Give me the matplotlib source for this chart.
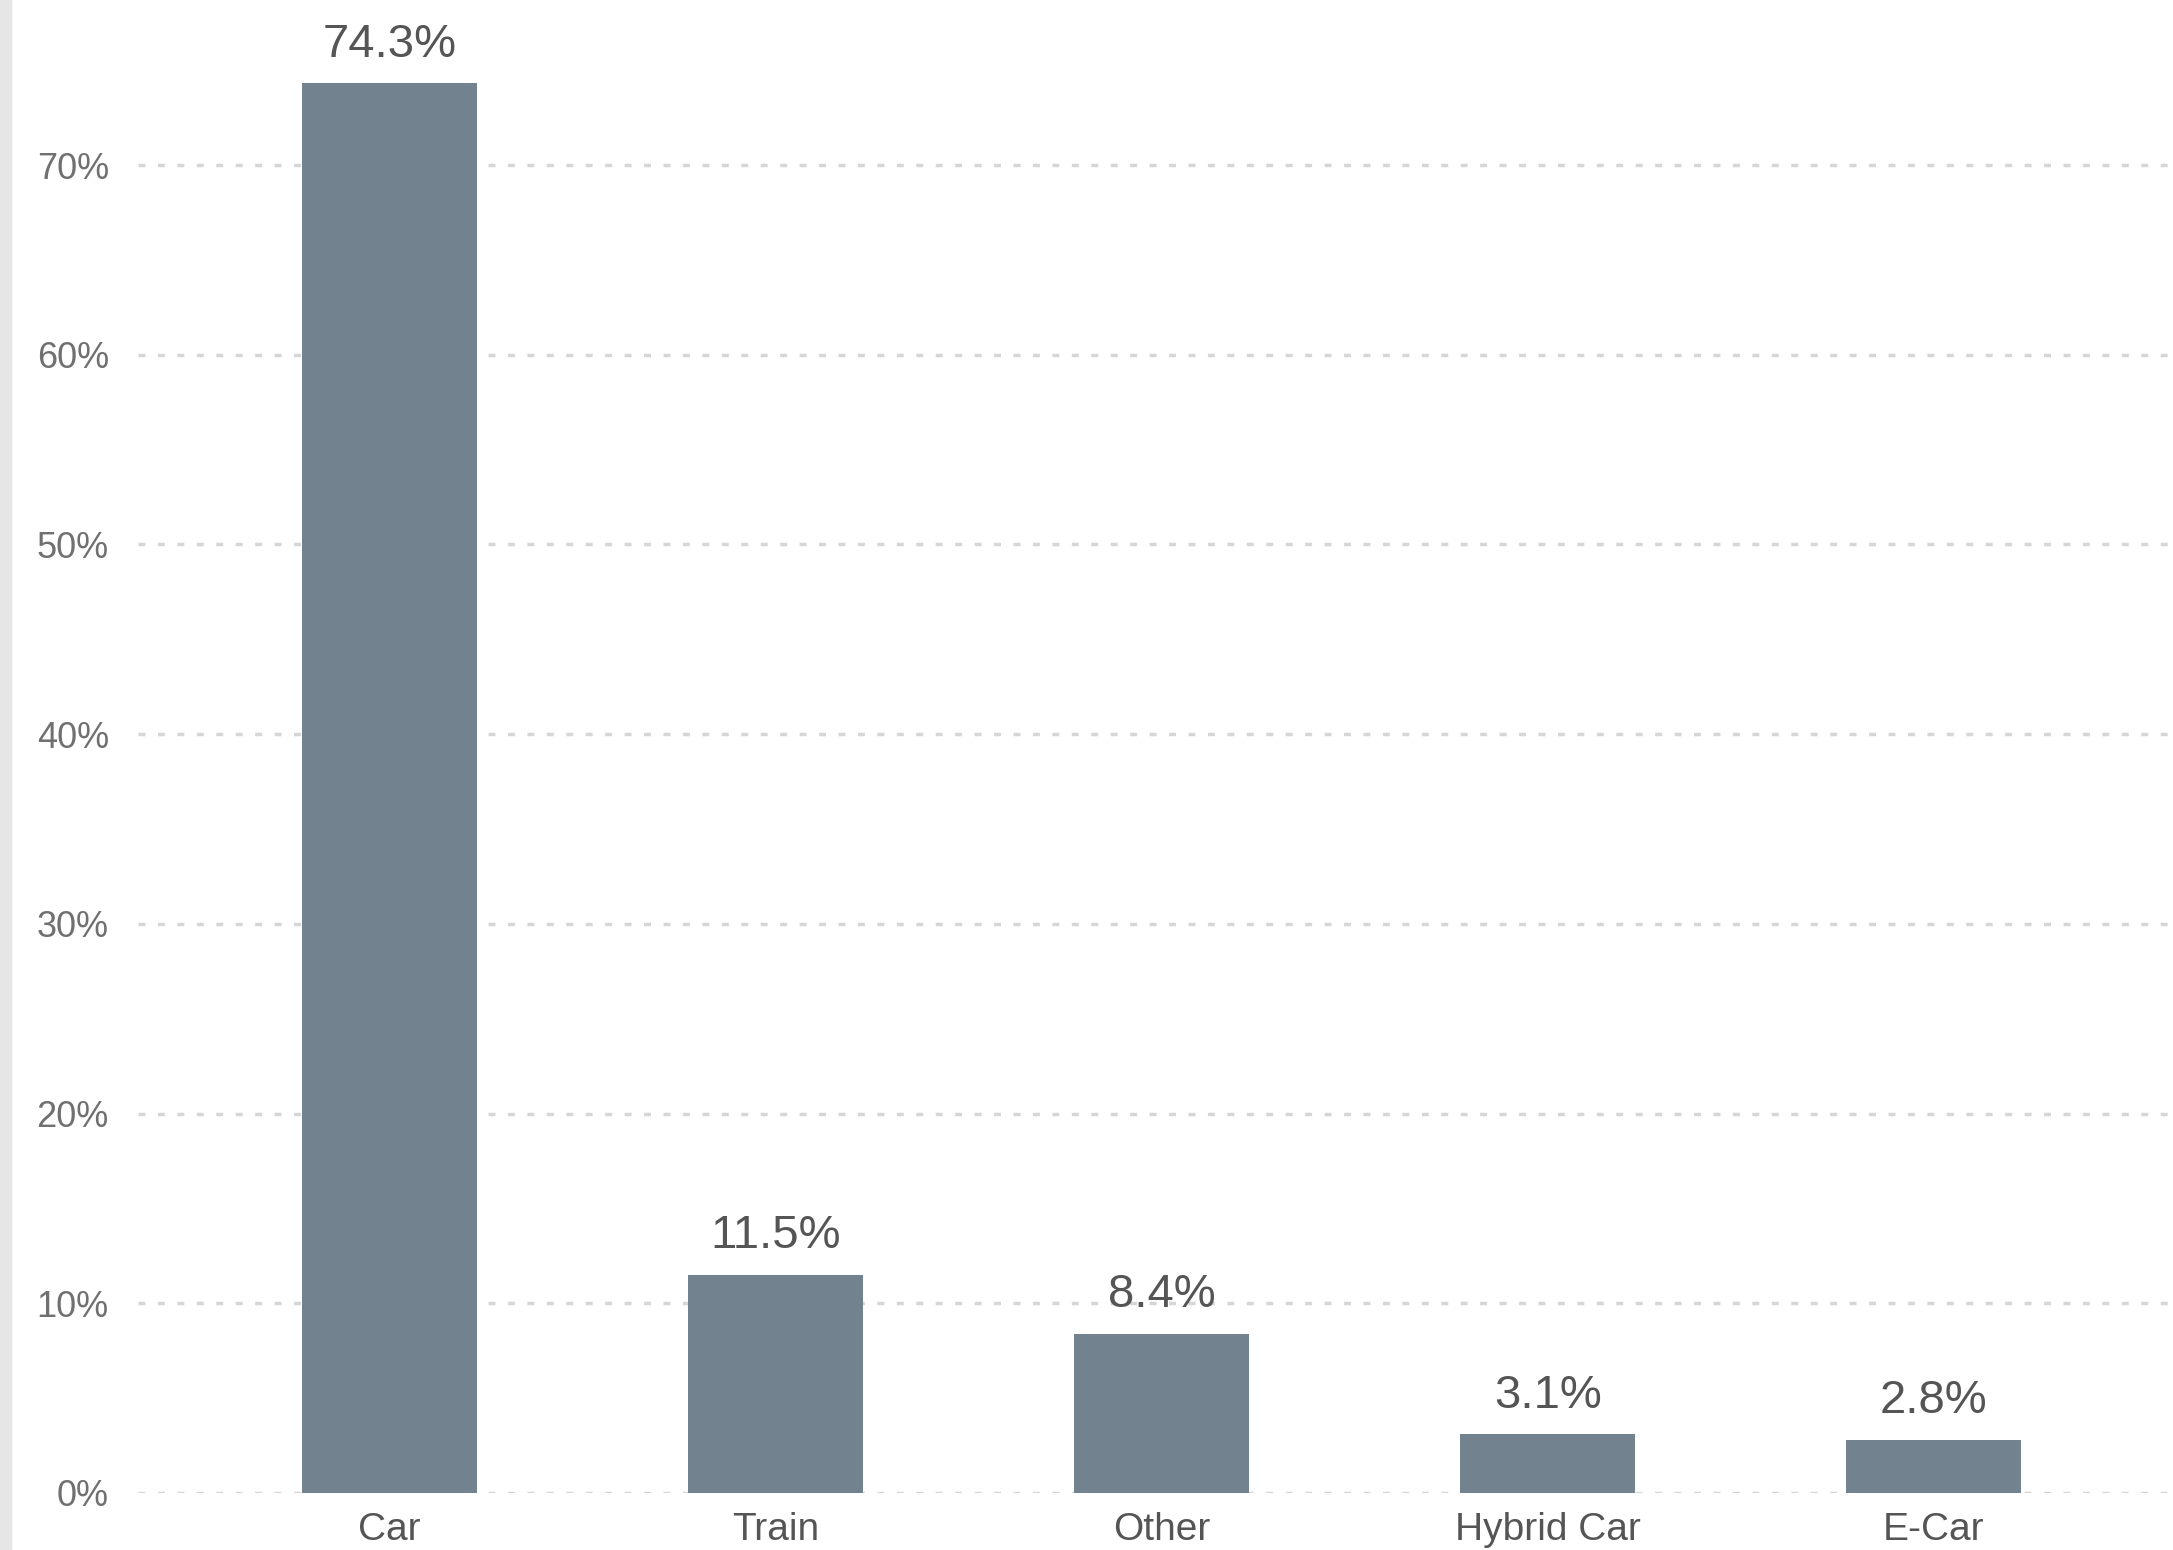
import matplotlib
matplotlib.use("Agg")
import matplotlib.pyplot as plt
from matplotlib.patches import Rectangle

plt.rcParams['font.family'] = ['Liberation Sans', 'DejaVu Sans']

# share of trips by mode (%)
modes = ["Car", "Train", "Other", "Hybrid Car", "E-Car"]
shares = [74.3, 11.5, 8.4, 3.1, 2.8]
yticks = [0, 10, 20, 30, 40, 50, 60, 70]
ytick_labels = ["0%", "10%", "20%", "30%", "40%", "50%", "60%", "70%"]

fig = plt.figure(figsize=(21.73, 15.5), dpi=100)
ax = fig.add_axes([138 / 2173, 57 / 1550, 1 - 138 / 2173, 1 - 57 / 1550])

# grey strip on the left edge of the screenshot
fig.patches.append(Rectangle((0, 0), 11 / 2173, 1, transform=fig.transFigure,
                             color="#e6e6e6", zorder=0))

x = range(len(modes))
bars = ax.bar(x, shares, width=0.455, color="#72828f", zorder=2)

for b, v in zip(bars, shares):
    ax.annotate(f"{v}%", (b.get_x() + b.get_width() / 2, v),
                xytext=(0, 12), textcoords="offset points",
                ha="center", va="bottom", fontsize=34, color="#555555")

ax.set_xlim(-0.652, 4.62)
ax.set_ylim(0, 78.7)
ax.set_xticks(list(x))
ax.set_xticklabels(modes, fontsize=28, color="#555555")
ax.set_yticks(yticks)
ax.set_yticklabels(ytick_labels, fontsize=26, color="#707070")
ax.tick_params(axis="both", length=0)
ax.tick_params(axis="y", pad=21)
ax.tick_params(axis="x", pad=14)

ax.grid(axis="y", color="#d6d6d6", linewidth=2.5, linestyle=(0, (2.0, 3.6)), zorder=1)
ax.set_axisbelow(True)
for s in ax.spines.values():
    s.set_visible(False)

fig.savefig("out.png", dpi=100)
